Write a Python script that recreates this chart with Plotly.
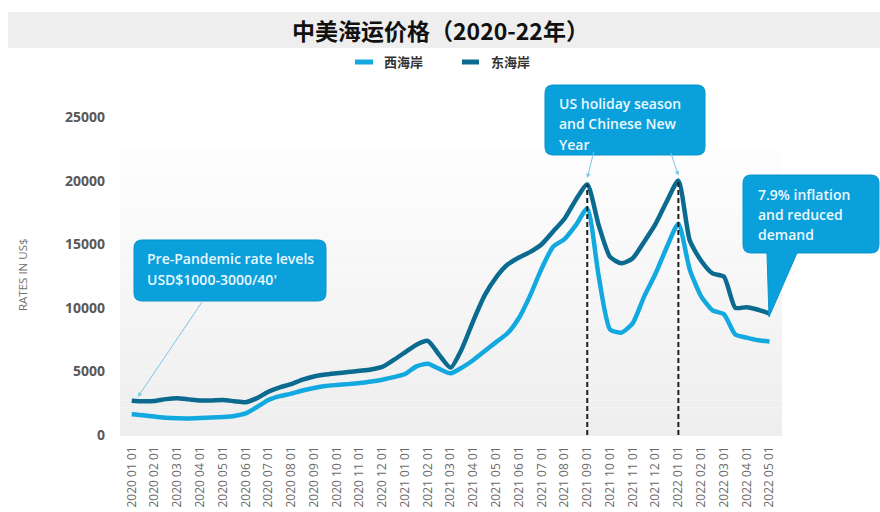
import plotly.graph_objects as go

# Half-month sampling dates, 2020-01-01 .. 2022-05-01
dates = []
for yr in (2020, 2021, 2022):
    for mo in range(1, 13):
        if (yr, mo) > (2022, 5):
            break
        dates.append(f"{yr}-{mo:02d}-01")
        if (yr, mo) < (2022, 5):
            dates.append(f"{yr}-{mo:02d}-16")

# Container rates, USD per 40' (east coast / west coast)
east_coast = [
    2700, 2650, 2680, 2820, 2880, 2800, 2720, 2720, 2750, 2660,
    2570, 2900, 3400, 3750, 4000, 4350, 4600, 4750, 4850, 4950,
    5050, 5150, 5350, 5900, 6500, 7100, 7400, 6300, 5300, 6800,
    9000, 11000, 12400, 13400, 13950, 14400, 15000, 16000, 17000, 18500,
    19700, 16500, 14000, 13500, 13900, 15200, 16600, 18400, 20000, 15300,
    13700, 12700, 12450, 10000, 10050, 9850, 9550,
]
west_coast = [
    1630, 1550, 1450, 1350, 1310, 1300, 1330, 1370, 1420, 1500,
    1700, 2200, 2750, 3050, 3250, 3500, 3700, 3850, 3930, 4000,
    4080, 4200, 4350, 4550, 4800, 5400, 5600, 5200, 4850, 5300,
    5900, 6600, 7300, 8000, 9200, 11000, 13100, 14800, 15400, 16500,
    17800, 12500, 8300, 8050, 8800, 10900, 12700, 14800, 16600, 13000,
    10900, 9800, 9500, 7900, 7650, 7450, 7350,
]

series_names = ["西海岸", "东海岸"]
y_ticks = [0, 5000, 10000, 15000, 20000, 25000]
peak_dates = ["2021-09-01", "2022-01-01"]

LIGHT = "#12A8E0"
DARK = "#0B6A8F"
BOX = "#0AA0DC"
BOX_TEXT = "#EAF8FF"
ARROW = "#7CC6E8"

W, H = 880, 512
L, R, T, B = 120, 98, 117, 77
PW, PH = W - L - R, H - T - B


def month_pos(d):
    """Position on a uniform monthly axis (0 = 2020-01-01)."""
    yr, mo, day = (int(p) for p in d.split("-"))
    return (yr - 2020) * 12 + (mo - 1) + (day - 1) / 30.0


xpos = [month_pos(d) for d in dates]
tick_dates = [d for d in dates if d.endswith("-01")]
tick_pos = [month_pos(d) for d in tick_dates]
tick_text = [d.replace("-", " ") for d in tick_dates]


def px(x, y):
    """Pixel position -> paper coordinates."""
    return (x - L) / PW, (H - B - y) / PH


def box_path(x0, y0, x1, y1, r, tail=None):
    pts = [("M", (x0 + r, y0)), ("L", (x1 - r, y0)),
           ("Q", (x1, y0), (x1, y0 + r)), ("L", (x1, y1 - r)),
           ("Q", (x1, y1), (x1 - r, y1))]
    if tail:
        xa, xb, tx, ty = tail
        pts += [("L", (xb, y1)), ("L", (tx, ty)), ("L", (xa, y1))]
    pts += [("L", (x0 + r, y1)), ("Q", (x0, y1), (x0, y1 - r)),
            ("L", (x0, y0 + r)), ("Q", (x0, y0), (x0 + r, y0))]
    out = []
    for cmd, *ps in pts:
        out.append(cmd + " ".join("%.5f,%.5f" % px(*p) for p in ps))
    return " ".join(out) + " Z"


fig = go.Figure()
fig.add_trace(go.Scatter(x=xpos, y=west_coast, name=series_names[0], mode="lines",
                         customdata=dates, hovertemplate="%{customdata}: %{y}",
                         line=dict(color=LIGHT, width=4.5, shape="spline", smoothing=0.6)))
fig.add_trace(go.Scatter(x=xpos, y=east_coast, name=series_names[1], mode="lines",
                         customdata=dates, hovertemplate="%{customdata}: %{y}",
                         line=dict(color=DARK, width=4.5, shape="spline", smoothing=0.6)))

shapes = []
# title band
bx0, by0 = px(8, 12)
bx1, by1 = px(880, 48)
shapes.append(dict(type="rect", xref="paper", yref="paper", x0=bx0, x1=bx1, y0=by0, y1=by1,
                   fillcolor="#EEEEEE", line=dict(width=0), layer="below"))
# plot background gradient (white at top -> light grey at bottom)
n = 40
top, bot = 150, 436
for i in range(n):
    ya = top + (bot - top) * i / n
    yb = top + (bot - top) * (i + 1) / n
    c = int(254 - (254 - 238) * (i + 0.5) / n)
    _, p0 = px(0, yb)
    _, p1 = px(0, ya)
    shapes.append(dict(type="rect", xref="paper", yref="paper", x0=0, x1=1, y0=p0, y1=p1,
                       fillcolor=f"rgb({c},{c},{c})", line=dict(width=0), layer="below"))

# vertical dashed markers at the two peaks
for d in peak_dates:
    xp = month_pos(d)
    shapes.append(dict(type="line", xref="x", yref="y", x0=xp, x1=xp, y0=0,
                       y1=east_coast[dates.index(d)],
                       line=dict(color="#1E1E1E", width=2, dash="5px,3px")))

# callout boxes
shapes.append(dict(type="path", xref="paper", yref="paper",
                   path=box_path(134, 240, 326, 301, 8),
                   fillcolor=BOX, line=dict(color="#0993CC", width=1)))
shapes.append(dict(type="path", xref="paper", yref="paper",
                   path=box_path(545, 85, 705, 155, 8),
                   fillcolor=BOX, line=dict(color="#0993CC", width=1)))
shapes.append(dict(type="path", xref="paper", yref="paper",
                   path=box_path(743, 175, 879, 253, 8, tail=(767, 797, 769, 317)),
                   fillcolor=BOX, line=dict(color="#0993CC", width=1)))

# legend samples
for (x0, x1), col in [((355, 373), LIGHT), ((462, 479), DARK)]:
    a, yy = px(x0, 62)
    b, _ = px(x1, 62)
    shapes.append(dict(type="line", xref="paper", yref="paper", x0=a, x1=b, y0=yy, y1=yy,
                       line=dict(color=col, width=5)))

annotations = []


def text_at(x, y, s, size=14, color=BOX_TEXT, xanchor="left", family="Open Sans",
            weight=600, angle=0):
    xp, yp = px(x, y)
    annotations.append(dict(xref="paper", yref="paper", x=xp, y=yp, text=s, showarrow=False,
                            xanchor=xanchor, yanchor="middle", textangle=angle,
                            font=dict(size=size, color=color, family=family, weight=weight)))


text_at(440, 30, "中美海运价格（2020-22年）", size=23, color="#111111", xanchor="center",
        family="Noto Sans CJK SC", weight="bold")
text_at(382, 62, series_names[0], size=13, color="#333333", family="Noto Sans CJK SC", weight="bold")
text_at(489, 62, series_names[1], size=13, color="#333333", family="Noto Sans CJK SC", weight="bold")
text_at(22, 275, "RATES IN US$", size=11.5, color="#707070", xanchor="center", angle=-90,
        weight="normal")

for i, line in enumerate(["Pre-Pandemic rate levels", "USD$1000-3000/40'"]):
    text_at(145, 258 + 21 * i, line)
for i, line in enumerate(["US holiday season", "and Chinese New", "Year"]):
    text_at(557, 103 + 20.5 * i, line)
for i, line in enumerate(["7.9% inflation", "and reduced", "demand"]):
    text_at(756, 194 + 20 * i, line)

# pointer arrows
for d, y, ax, ay in [("2020-01-09", 2990, 65, -96),
                     ("2021-09-01", 20200, 7, -28),
                     ("2022-01-01", 20400, -8, -24)]:
    annotations.append(dict(x=month_pos(d), y=y, xref="x", yref="y", ax=ax, ay=ay, text="",
                            showarrow=True, arrowhead=2, arrowsize=0.9, arrowwidth=1,
                            arrowcolor=ARROW, standoff=0))

fig.update_layout(
    width=W, height=H,
    margin=dict(l=L, r=R, t=T, b=B, autoexpand=False),
    paper_bgcolor="white", plot_bgcolor="white",
    showlegend=False,
    font=dict(family="Open Sans", color="#595959"),
    shapes=shapes, annotations=annotations,
    xaxis=dict(range=[-0.515, 28.55], tickvals=tick_pos, ticktext=tick_text, tickangle=-90,
               tickfont=dict(size=12, color="#6A6A6A"), showgrid=False, zeroline=False,
               showline=False, ticks="", ticklabelstandoff=8, automargin=False),
    yaxis=dict(range=[0, 25000], tickvals=y_ticks, tickformat="d", showgrid=False,
               zeroline=False, showline=False, ticks="", ticklabelstandoff=14,
               automargin=False,
               tickfont=dict(size=14, color="#595959", weight="bold")),
)

fig.write_html("out.html")
